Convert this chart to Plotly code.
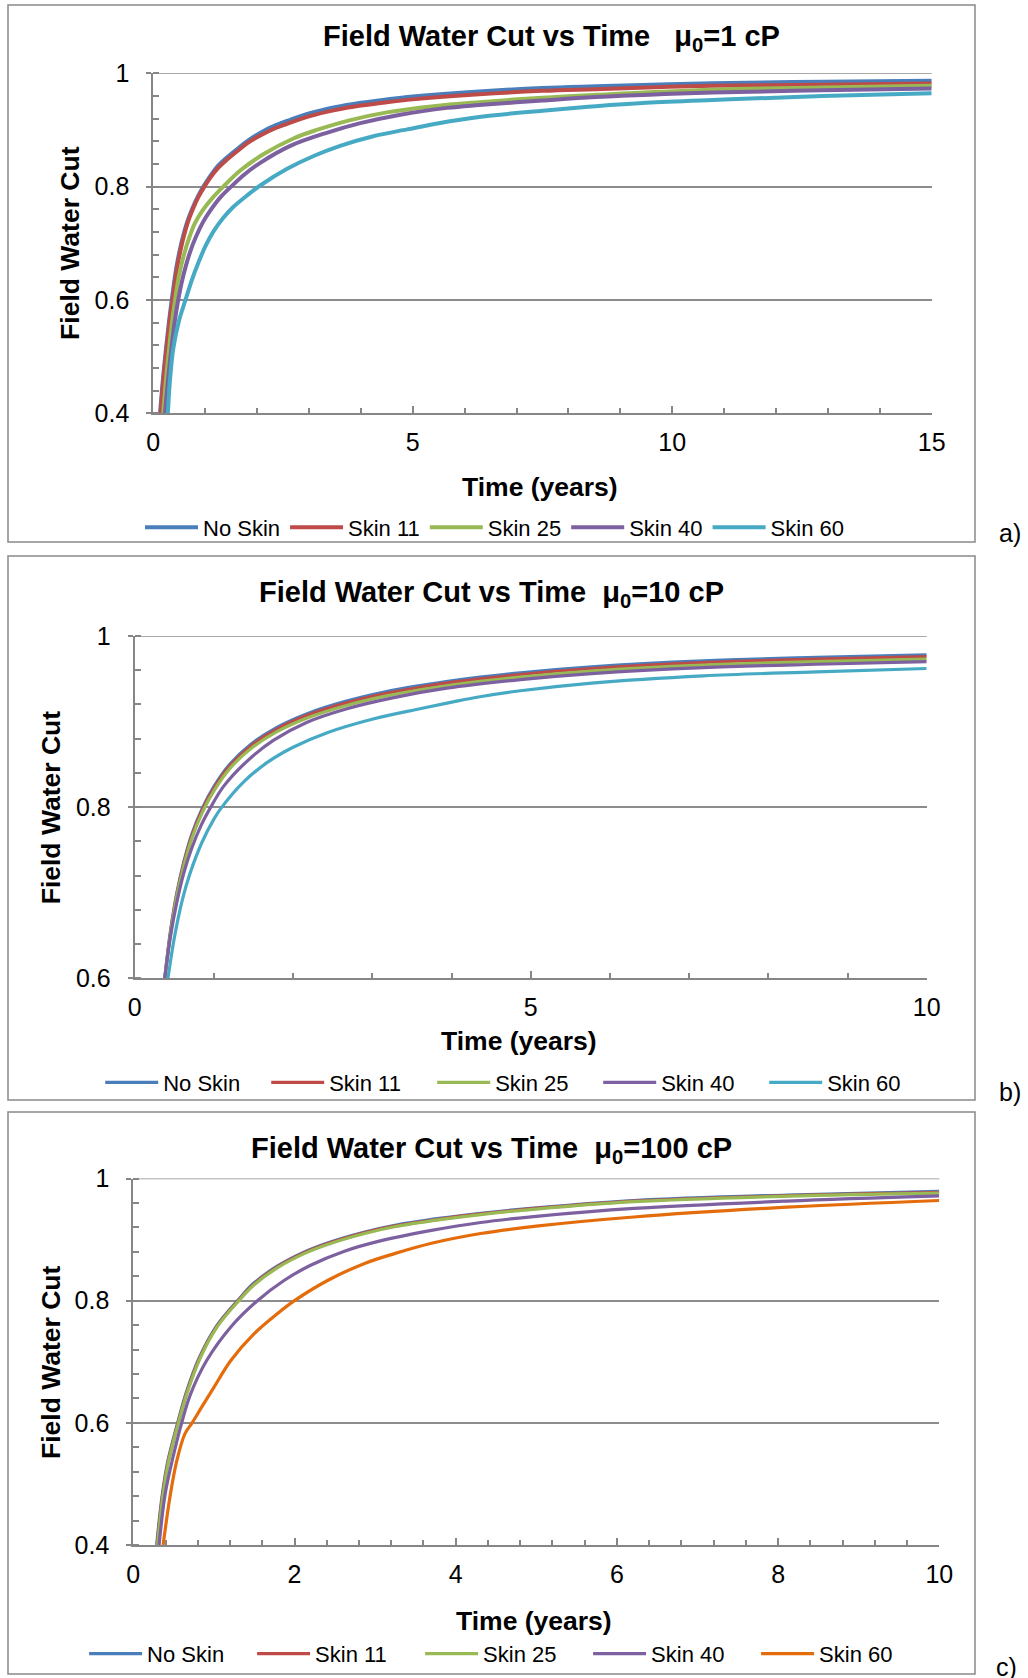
import plotly.graph_objects as go

W, H = 1028, 1678
FONT = "Liberation Sans, Arial, sans-serif"

# ---------------- data ----------------
series_names = ["No Skin", "Skin 11", "Skin 25", "Skin 40", "Skin 60"]
colors_ab = ["#4A7EBB", "#BE4B48", "#98B954", "#7D60A0", "#46AAC5"]
colors_c = ["#4A7EBB", "#BE4B48", "#98B954", "#7D60A0", "#E46C0A"]

# Panel a) mu0 = 1 cP  (time in years, field water cut)
a_t_noskin = [0.13, 0.18, 0.24, 0.30, 0.355, 0.45, 0.55, 0.65, 0.75, 0.85, 0.965, 1.1, 1.25, 1.4, 1.61, 1.85, 2.1, 2.35, 2.64, 3.0, 3.5, 4.0, 4.5, 5.0, 6.28, 7.5, 8.53, 10.78, 12.9, 15.0]
a_wc_noskin = [0.400, 0.455, 0.510, 0.560, 0.600, 0.660, 0.704, 0.737, 0.761, 0.781, 0.800, 0.819, 0.837, 0.850, 0.866, 0.883, 0.897, 0.908, 0.918, 0.929, 0.940, 0.948, 0.954, 0.959, 0.968, 0.974, 0.977, 0.9825, 0.985, 0.987]
a_t_skin11 = [0.14, 0.19, 0.25, 0.31, 0.37, 0.465, 0.565, 0.665, 0.765, 0.865, 0.985, 1.1, 1.25, 1.4, 1.61, 1.85, 2.1, 2.35, 2.64, 3.0, 3.5, 4.0, 4.5, 5.0, 6.28, 7.5, 8.53, 10.78, 12.9, 15.0]
a_wc_skin11 = [0.400, 0.455, 0.510, 0.560, 0.600, 0.660, 0.704, 0.737, 0.761, 0.781, 0.800, 0.816, 0.833, 0.846, 0.862, 0.879, 0.892, 0.903, 0.913, 0.924, 0.935, 0.943, 0.949, 0.954, 0.963, 0.969, 0.972, 0.978, 0.980, 0.982]
a_t_skin25 = [0.19, 0.25, 0.30, 0.36, 0.42, 0.5, 0.6, 0.7, 0.8, 0.95, 1.15, 1.35, 1.67, 2.12, 2.7, 3.15, 3.78, 4.5, 5.4, 6.28, 7.5, 8.53, 10.78, 12.9, 15.0]
a_wc_skin25 = [0.400, 0.465, 0.510, 0.560, 0.600, 0.645, 0.683, 0.712, 0.735, 0.758, 0.781, 0.800, 0.828, 0.857, 0.885, 0.900, 0.917, 0.931, 0.942, 0.949, 0.957, 0.962, 0.971, 0.975, 0.978]
a_t_skin40 = [0.225, 0.29, 0.35, 0.41, 0.48, 0.55, 0.63, 0.71, 0.82, 0.95, 1.1, 1.3, 1.5, 1.75, 2.06, 2.64, 3.34, 3.99, 4.76, 5.66, 6.28, 7.5, 8.53, 10.78, 12.9, 15.0]
a_wc_skin40 = [0.400, 0.465, 0.515, 0.560, 0.600, 0.632, 0.661, 0.685, 0.711, 0.736, 0.758, 0.782, 0.800, 0.821, 0.842, 0.872, 0.895, 0.912, 0.927, 0.939, 0.944, 0.952, 0.958, 0.966, 0.970, 0.973]
a_t_skin60 = [0.28, 0.32, 0.386, 0.5, 0.62, 0.75, 0.87, 1.0, 1.16, 1.35, 1.54, 1.8, 2.06, 2.57, 3.09, 3.6, 4.24, 4.89, 5.5, 6.28, 7.5, 8.53, 9.5, 10.78, 12.0, 12.9, 15.0]
a_wc_skin60 = [0.400, 0.457, 0.515, 0.565, 0.600, 0.637, 0.666, 0.694, 0.721, 0.745, 0.764, 0.784, 0.802, 0.831, 0.854, 0.872, 0.889, 0.901, 0.912, 0.923, 0.934, 0.942, 0.948, 0.953, 0.957, 0.960, 0.965]

# Panel b) mu0 = 10 cP
b_t_noskin = [0.38, 0.45, 0.53, 0.62, 0.72, 0.85, 1.0, 1.2, 1.46, 1.79, 2.17, 2.64, 3.18, 3.6, 4.02, 4.87, 5.77, 7.18, 8.61, 10.0]
b_wc_noskin = [0.600, 0.654, 0.699, 0.736, 0.768, 0.798, 0.824, 0.850, 0.873, 0.893, 0.909, 0.923, 0.935, 0.942, 0.948, 0.957, 0.964, 0.971, 0.975, 0.978]
b_t_skin11 = [0.38, 0.45, 0.53, 0.62, 0.72, 0.85, 1.0, 1.2, 1.46, 1.79, 2.17, 2.64, 3.18, 3.6, 4.02, 4.87, 5.77, 7.18, 8.61, 10.0]
b_wc_skin11 = [0.600, 0.652, 0.697, 0.734, 0.766, 0.796, 0.822, 0.848, 0.871, 0.891, 0.907, 0.921, 0.933, 0.940, 0.946, 0.955, 0.962, 0.969, 0.973, 0.976]
b_t_skin25 = [0.38, 0.45, 0.53, 0.62, 0.72, 0.85, 1.0, 1.2, 1.46, 1.79, 2.17, 2.64, 3.18, 3.6, 4.02, 4.87, 5.77, 7.18, 8.61, 10.0]
b_wc_skin25 = [0.600, 0.650, 0.695, 0.731, 0.763, 0.793, 0.819, 0.845, 0.868, 0.888, 0.904, 0.918, 0.930, 0.937, 0.943, 0.952, 0.959, 0.966, 0.970, 0.973]
b_t_skin40 = [0.38, 0.45, 0.53, 0.62, 0.72, 0.84, 0.96, 1.12, 1.41, 1.75, 2.17, 2.68, 3.27, 3.94, 4.87, 5.77, 7.18, 8.61, 10.0]
b_wc_skin40 = [0.600, 0.648, 0.688, 0.723, 0.752, 0.779, 0.800, 0.824, 0.853, 0.878, 0.899, 0.915, 0.928, 0.939, 0.949, 0.956, 0.963, 0.967, 0.970]
b_t_skin60 = [0.42, 0.5, 0.6, 0.7, 0.85, 1.0, 1.1, 1.37, 1.67, 2.0, 2.43, 3.01, 3.6, 4.02, 4.36, 4.87, 5.77, 7.18, 8.61, 10.0]
b_wc_skin60 = [0.600, 0.647, 0.691, 0.723, 0.759, 0.786, 0.800, 0.829, 0.852, 0.870, 0.887, 0.903, 0.915, 0.923, 0.929, 0.936, 0.945, 0.9535, 0.958, 0.962]

# Panel c) mu0 = 100 cP
c_t_noskin = [0.29, 0.36, 0.43, 0.55, 0.66, 0.82, 1.03, 1.30, 1.49, 1.78, 2.11, 2.40, 2.86, 3.23, 3.82, 4.31, 5.0, 6.21, 8.11, 10.0]
c_wc_noskin = [0.400, 0.483, 0.538, 0.600, 0.651, 0.707, 0.758, 0.801, 0.828, 0.856, 0.879, 0.894, 0.912, 0.923, 0.935, 0.943, 0.952, 0.964, 0.973, 0.979]
c_t_skin11 = [0.295, 0.365, 0.435, 0.555, 0.665, 0.825, 1.035, 1.305, 1.495, 1.785, 2.115, 2.405, 2.865, 3.235, 3.825, 4.31, 5.0, 6.21, 8.11, 10.0]
c_wc_skin11 = [0.400, 0.483, 0.538, 0.600, 0.6505, 0.7065, 0.7575, 0.8005, 0.827, 0.855, 0.878, 0.893, 0.911, 0.922, 0.934, 0.942, 0.951, 0.963, 0.972, 0.9775]
c_t_skin25 = [0.30, 0.37, 0.44, 0.56, 0.67, 0.83, 1.04, 1.31, 1.50, 1.79, 2.12, 2.41, 2.87, 3.24, 3.83, 4.31, 5.0, 6.21, 8.11, 10.0]
c_wc_skin25 = [0.400, 0.483, 0.538, 0.600, 0.650, 0.706, 0.757, 0.800, 0.826, 0.854, 0.877, 0.892, 0.910, 0.921, 0.933, 0.941, 0.950, 0.962, 0.971, 0.976]
c_t_skin40 = [0.32, 0.395, 0.5, 0.60, 0.71, 0.91, 1.21, 1.54, 1.87, 2.20, 2.62, 3.04, 3.70, 4.31, 5.0, 6.21, 8.11, 10.0]
c_wc_skin40 = [0.400, 0.483, 0.548, 0.600, 0.647, 0.702, 0.757, 0.800, 0.833, 0.858, 0.881, 0.897, 0.915, 0.928, 0.938, 0.951, 0.963, 0.9715]
c_t_skin60 = [0.37, 0.46, 0.54, 0.64, 0.73, 0.85, 1.0, 1.21, 1.50, 1.79, 2.0, 2.41, 2.87, 3.24, 3.70, 4.31, 5.0, 6.21, 8.11, 10.0]
c_wc_skin60 = [0.400, 0.483, 0.538, 0.582, 0.600, 0.626, 0.658, 0.702, 0.746, 0.779, 0.800, 0.833, 0.861, 0.877, 0.894, 0.910, 0.922, 0.937, 0.953, 0.964]

# tick labels
a_xticks = [0, 5, 10, 15]
a_xticklabels = ["0", "5", "10", "15"]
a_yticks = [0.4, 0.6, 0.8, 1.0]
a_yticklabels = ["0.4", "0.6", "0.8", "1"]
b_xticks = [0, 5, 10]
b_xticklabels = ["0", "5", "10"]
b_yticks = [0.6, 0.8, 1.0]
b_yticklabels = ["0.6", "0.8", "1"]
c_xticks = [0, 2, 4, 6, 8, 10]
c_xticklabels = ["0", "2", "4", "6", "8", "10"]
c_yticks = [0.4, 0.6, 0.8, 1.0]
c_yticklabels = ["0.4", "0.6", "0.8", "1"]

titles = ["Field Water Cut vs Time\u00a0\u00a0\u00a0μ<sub>0</sub>=1 cP",
          "Field Water Cut vs Time\u00a0\u00a0μ<sub>0</sub>=10 cP",
          "Field Water Cut vs Time\u00a0\u00a0μ<sub>0</sub>=100 cP"]
panel_labels = ["a)", "b)", "c)"]
x_title = "Time (years)"
y_title = "Field Water Cut"

# ---------------- layout helpers ----------------
def px(x):
    return x / W

def py(y):
    return 1 - y / H

panels = [
    dict(series=[(a_t_noskin, a_wc_noskin), (a_t_skin11, a_wc_skin11), (a_t_skin25, a_wc_skin25),
                 (a_t_skin40, a_wc_skin40), (a_t_skin60, a_wc_skin60)],
         colors=colors_ab, lw=4.0,
         xr=[0, 15], yr=[0.4, 1.0], xt=(a_xticks, a_xticklabels), yt=(a_yticks, a_yticklabels),
         xminor=1, yminor=0.04,
         dom=(153.3, 931.7, 73.3, 413.3), box=(8, 975, 5, 542),
         title_xy=(551, 38), ytitle_xy=(70.6, 243.3), xtitle_xy=(540, 486.7),
         legend_xy=(140, 527.4), entrywidth=0, label_xy=(1010, 533)),
    dict(series=[(b_t_noskin, b_wc_noskin), (b_t_skin11, b_wc_skin11), (b_t_skin25, b_wc_skin25),
                 (b_t_skin40, b_wc_skin40), (b_t_skin60, b_wc_skin60)],
         colors=colors_ab, lw=3.2,
         xr=[0, 10], yr=[0.6, 1.0], xt=(b_xticks, b_xticklabels), yt=(b_yticks, b_yticklabels),
         xminor=1, yminor=0.04,
         dom=(134.7, 926.7, 636.0, 978.3), box=(8, 975, 556, 1100),
         title_xy=(491.5, 594), ytitle_xy=(51.3, 807), xtitle_xy=(519.3, 1040.8),
         legend_xy=(100.2, 1082.6), entrywidth=98, label_xy=(1010, 1092)),
    dict(series=[(c_t_noskin, c_wc_noskin), (c_t_skin11, c_wc_skin11), (c_t_skin25, c_wc_skin25),
                 (c_t_skin40, c_wc_skin40), (c_t_skin60, c_wc_skin60)],
         colors=colors_c, lw=3.2,
         xr=[0, 10], yr=[0.4, 1.0], xt=(c_xticks, c_xticklabels), yt=(c_yticks, c_yticklabels),
         xminor=0.4, yminor=0.04,
         dom=(133.3, 939.3, 1178.5, 1545.0), box=(8, 975, 1112, 1674),
         title_xy=(491, 1150), ytitle_xy=(50.3, 1361.7), xtitle_xy=(534.3, 1620.6),
         legend_xy=(84.1, 1653.8), entrywidth=100, label_xy=(1006, 1667)),
]

AXC = "#868686"
GRIDC = "#8c8c8c"

fig = go.Figure()
layout = dict(width=W, height=H, margin=dict(l=0, r=0, t=0, b=0, autoexpand=False),
              paper_bgcolor="white", plot_bgcolor="white",
              font=dict(family=FONT, color="black"), showlegend=True)
annotations = []
shapes = []

for i, p in enumerate(panels):
    sfx = "" if i == 0 else str(i + 1)
    xa, ya = "x" + sfx, "y" + sfx
    leg = "legend" + sfx
    for (t, wc), name, col in zip(p["series"], series_names, p["colors"]):
        fig.add_trace(go.Scatter(x=t, y=wc, mode="lines", name=name,
                                 line=dict(color=col, width=p["lw"], shape="spline", smoothing=1.0),
                                 xaxis=xa, yaxis=ya, legend=leg, hoverinfo="skip"))
    x0, x1, y0, y1 = p["dom"]
    layout["xaxis" + sfx] = dict(
        domain=[px(x0), px(x1)], range=p["xr"], anchor=ya,
        tickmode="array", tickvals=p["xt"][0], ticktext=p["xt"][1],
        ticks="inside", ticklen=7, tickwidth=1.5, tickcolor=AXC,
        showline=True, linecolor=AXC, linewidth=2, showgrid=False, zeroline=False,
        tickfont=dict(family=FONT, size=25, color="black"), ticklabelstandoff=6,
        minor=dict(tickmode="linear", tick0=0, dtick=p["xminor"], ticks="inside",
                   ticklen=5, tickwidth=1.5, tickcolor=AXC, showgrid=False),
        automargin=False, fixedrange=True)
    layout["yaxis" + sfx] = dict(
        domain=[py(y1), py(y0)], range=p["yr"], anchor=xa,
        tickmode="array", tickvals=p["yt"][0], ticktext=p["yt"][1],
        ticks="outside", ticklen=5, tickwidth=1.5, tickcolor=AXC,
        showline=True, linecolor=AXC, linewidth=2, showgrid=True, gridcolor=GRIDC,
        gridwidth=1.5, zeroline=False,
        tickfont=dict(family=FONT, size=25, color="black"), ticklabelstandoff=12,
        minor=dict(tickmode="linear", tick0=p["yr"][0], dtick=p["yminor"], ticks="inside",
                   ticklen=6, tickwidth=1.5, tickcolor=AXC, showgrid=False),
        automargin=False, fixedrange=True)
    # gridline at the top of the value range (Plotly skips grid lines on the range edge)
    shapes.append(dict(type="line", xref=xa + " domain", yref=ya, x0=0, x1=1,
                       y0=p["yr"][1], y1=p["yr"][1], line=dict(color=GRIDC, width=1.5), layer="below"))
    lx, ly = p["legend_xy"]
    layout[leg] = dict(orientation="h", x=px(lx), y=py(ly), xanchor="left", yanchor="middle",
                       font=dict(family=FONT, size=22, color="black"), itemwidth=53,
                       entrywidth=p["entrywidth"], entrywidthmode="pixels",
                       bgcolor="rgba(0,0,0,0)", traceorder="normal", tracegroupgap=0)
    # panel frame
    bx0, bx1, by0, by1 = p["box"]
    shapes.append(dict(type="rect", xref="paper", yref="paper",
                       x0=px(bx0), x1=px(bx1), y0=py(by1), y1=py(by0),
                       line=dict(color="#898989", width=1.5), fillcolor="rgba(0,0,0,0)", layer="below"))
    tx, ty = p["title_xy"]
    annotations.append(dict(text="<b>" + titles[i] + "</b>", x=px(tx), y=py(ty), xref="paper", yref="paper",
                            xanchor="center", yanchor="middle", showarrow=False,
                            font=dict(family=FONT, size=29, color="black")))
    yx, yy = p["ytitle_xy"]
    annotations.append(dict(text="<b>" + y_title + "</b>", x=px(yx), y=py(yy), xref="paper", yref="paper",
                            xanchor="center", yanchor="middle", textangle=-90, showarrow=False,
                            font=dict(family=FONT, size=26.5, color="black")))
    xx, xy = p["xtitle_xy"]
    annotations.append(dict(text="<b>" + x_title + "</b>", x=px(xx), y=py(xy), xref="paper", yref="paper",
                            xanchor="center", yanchor="middle", showarrow=False,
                            font=dict(family=FONT, size=26.5, color="black")))
    lbx, lby = p["label_xy"]
    annotations.append(dict(text=panel_labels[i], x=px(lbx), y=py(lby), xref="paper", yref="paper",
                            xanchor="center", yanchor="middle", showarrow=False,
                            font=dict(family=FONT, size=25, color="black")))

layout["annotations"] = annotations
layout["shapes"] = shapes
fig.update_layout(**layout)
fig.write_html("out.html", config={"displayModeBar": False},
               post_script="document.body.style.margin='0px';document.body.style.padding='0px';"
                           "document.documentElement.style.overflow='hidden';")
